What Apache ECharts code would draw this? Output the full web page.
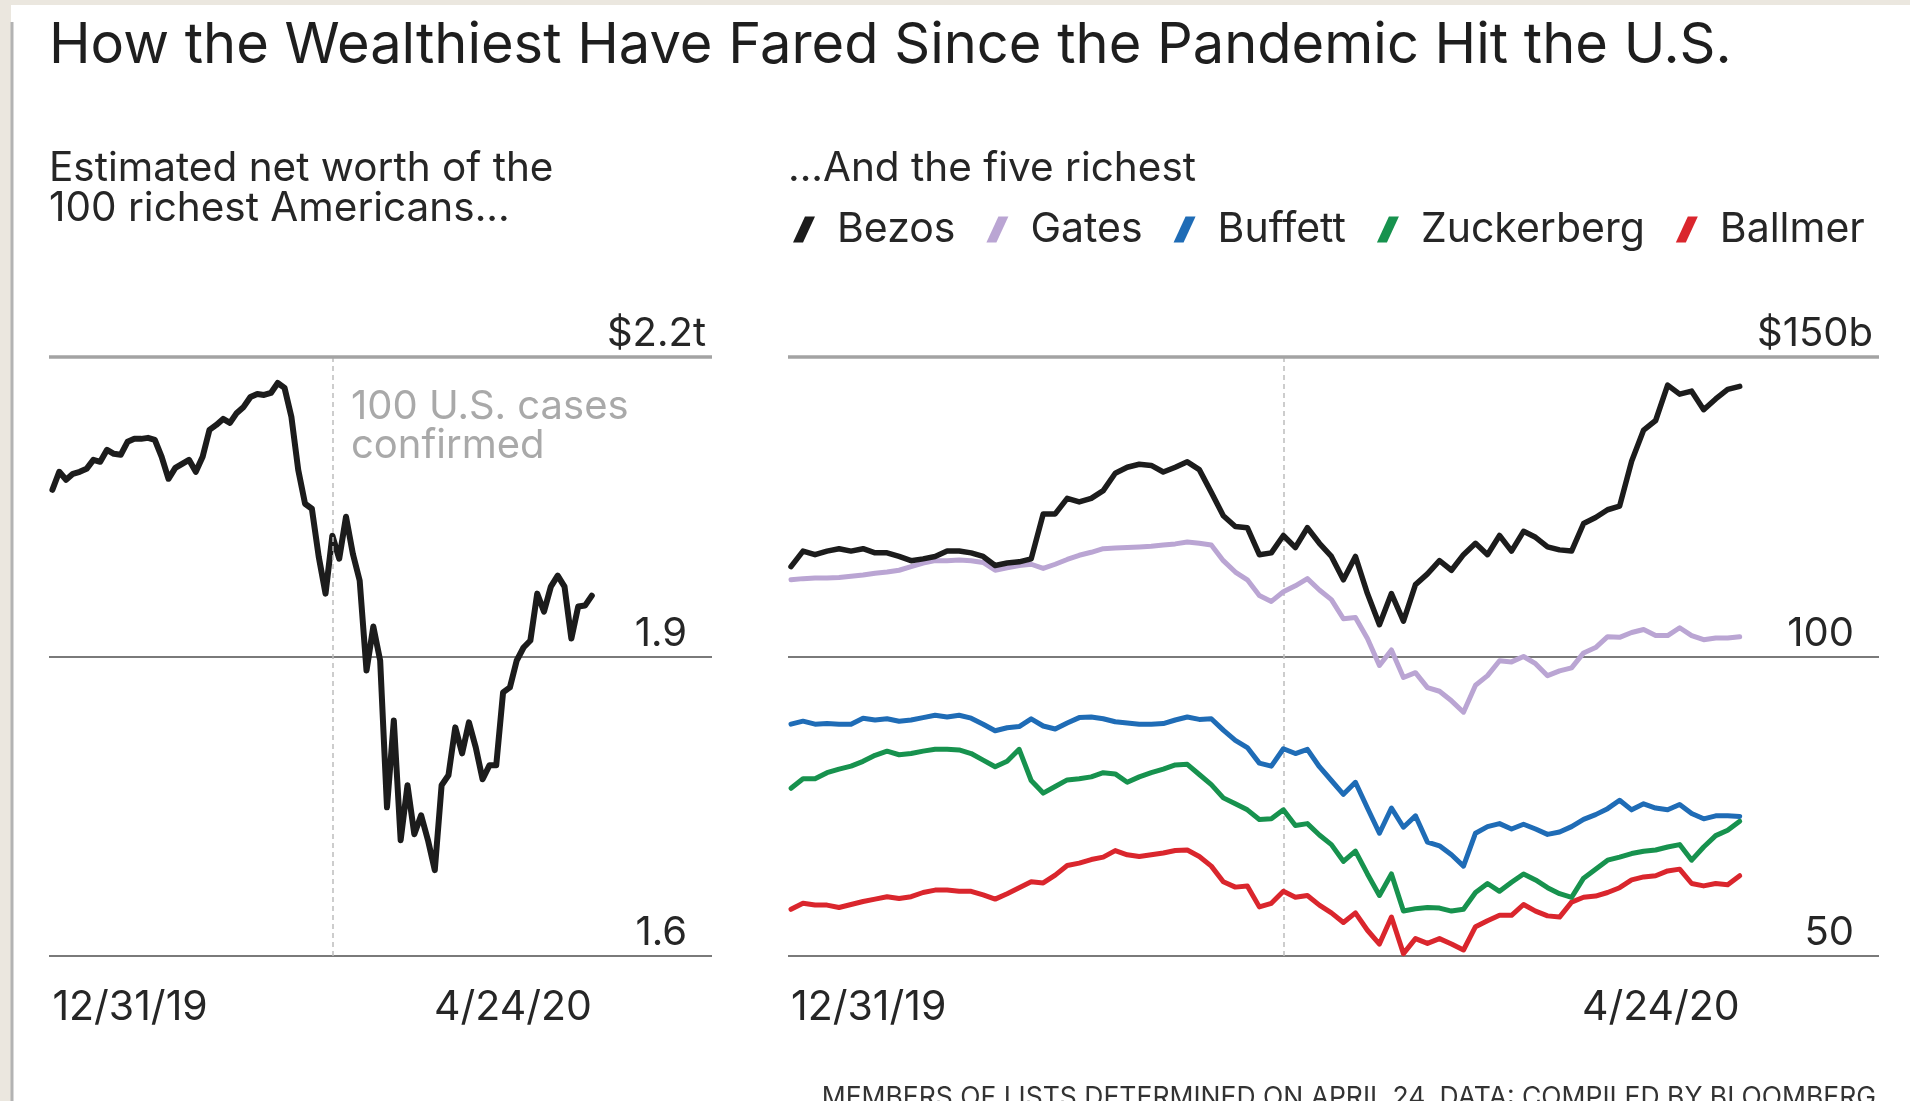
<!DOCTYPE html>
<html>
<head>
<meta charset="utf-8">
<title>How the Wealthiest Have Fared Since the Pandemic Hit the U.S.</title>
<script src="https://cdn.jsdelivr.net/npm/echarts@6/dist/echarts.min.js"></script>
<style>
  html, body { margin: 0; padding: 0; background: #fff; }
  #chart { width: 1910px; height: 1101px; }
</style>
</head>
<body>
<div id="chart"></div>
<script>
// trading sessions 12/31/19 .. 4/24/20, index 0 = 12/31/19, index 79 = 4/24/20
const dateLabels = ['12/31/19', '4/24/20'];
const firstDay = 0;
const lastDay = 79;
const casesConfirmedDay = 41; // 100 U.S. cases confirmed

// net worth of the 100 richest Americans, $ trillions
const top100 = [
  2.067, 2.085, 2.077, 2.083, 2.085, 2.088, 2.097, 2.095, 2.107, 2.103,
  2.102, 2.115, 2.118, 2.118, 2.119, 2.117, 2.100, 2.078, 2.089, 2.093,
  2.097, 2.085, 2.100, 2.127, 2.132, 2.138, 2.134, 2.144, 2.150, 2.160,
  2.163, 2.162, 2.164, 2.174, 2.169, 2.140, 2.087, 2.053, 2.048, 2.000,
  1.963, 2.021, 1.998, 2.040, 2.003, 1.976, 1.886, 1.930, 1.896, 1.749,
  1.836, 1.716, 1.771, 1.722, 1.741, 1.716, 1.686, 1.771, 1.781, 1.829,
  1.803, 1.834, 1.809, 1.777, 1.791, 1.791, 1.864, 1.869, 1.896, 1.909,
  1.916, 1.963, 1.945, 1.970, 1.981, 1.970, 1.918, 1.950, 1.951, 1.961
];

// five richest, $ billions
const bezos = [
  115.0, 117.6, 117.0, 117.6, 118.0, 117.6, 118.0, 117.3, 117.3, 116.7,
  116.0, 116.3, 116.7, 117.6, 117.6, 117.3, 116.7, 115.2, 115.6, 115.8,
  116.3, 123.8, 123.8, 126.4, 125.8, 126.4, 127.7, 130.6, 131.6, 132.1,
  131.9, 130.8, 131.6, 132.5, 131.2, 127.4, 123.5, 121.7, 121.5, 117.0,
  117.3, 120.2, 118.2, 121.5, 118.9, 116.7, 112.8, 116.7, 110.5, 105.3,
  110.5, 105.9, 112.0, 113.8, 116.0, 114.4, 117.0, 118.9, 117.0, 120.2,
  117.6, 120.9, 119.9, 118.3, 117.8, 117.6, 122.2, 123.2, 124.5, 125.1,
  132.6, 137.8, 139.4, 145.3, 143.8, 144.3, 141.2, 143.0, 144.6, 145.1
];
const gates = [
  112.8, 113.0, 113.1, 113.1, 113.2, 113.4, 113.6, 113.9, 114.1, 114.4,
  115.0, 115.6, 116.0, 116.0, 116.1, 116.0, 115.7, 114.4, 114.8, 115.2,
  115.4, 114.7, 115.4, 116.2, 116.9, 117.4, 118.0, 118.1, 118.2, 118.3,
  118.4, 118.6, 118.8, 119.1, 118.9, 118.6, 116.0, 114.1, 112.8, 110.2,
  109.2, 110.8, 111.8, 113.0, 111.1, 109.5, 106.3, 106.5, 103.0, 98.5,
  101.1, 96.5, 97.3, 94.8, 94.2, 92.6, 90.7, 95.2, 96.8, 99.3,
  99.1, 100.0, 98.8, 96.8, 97.6, 98.1, 100.6, 101.5, 103.3, 103.2,
  104.0, 104.5, 103.5, 103.5, 104.8, 103.5, 102.8, 103.1, 103.1, 103.3
];
const buffett = [
  88.7, 89.2, 88.7, 88.8, 88.7, 88.7, 89.7, 89.4, 89.6, 89.2,
  89.4, 89.8, 90.2, 89.9, 90.2, 89.7, 88.7, 87.6, 88.1, 88.3,
  89.6, 88.4, 87.9, 88.9, 89.8, 89.9, 89.6, 89.1, 88.9, 88.7,
  88.7, 88.8, 89.4, 89.9, 89.5, 89.6, 87.7, 86.0, 84.8, 82.2,
  81.7, 84.6, 83.8, 84.5, 81.6, 79.3, 77.0, 79.0, 74.7, 70.5,
  74.7, 71.5, 73.4, 69.0, 68.4, 66.9, 65.0, 70.5, 71.6, 72.1,
  71.2, 72.0, 71.2, 70.3, 70.7, 71.6, 72.8, 73.6, 74.6, 76.0,
  74.4, 75.4, 74.7, 74.4, 75.3, 73.8, 72.9, 73.4, 73.4, 73.3
];
const zuckerberg = [
  78.0, 79.6, 79.6, 80.6, 81.2, 81.7, 82.5, 83.5, 84.2, 83.6,
  83.8, 84.2, 84.5, 84.5, 84.4, 83.8, 82.7, 81.6, 82.5, 84.5,
  79.3, 77.2, 78.3, 79.4, 79.6, 79.9, 80.6, 80.4, 79.0, 79.9,
  80.6, 81.2, 81.9, 82.0, 80.3, 78.6, 76.4, 75.4, 74.4, 72.8,
  72.9, 74.4, 71.8, 72.1, 70.2, 68.6, 65.8, 67.5, 63.7, 60.1,
  63.7, 57.5, 57.9, 58.1, 58.0, 57.5, 57.8, 60.6, 62.1, 60.8,
  62.3, 63.7, 62.7, 61.4, 60.4, 59.8, 63.0, 64.5, 66.0, 66.5,
  67.1, 67.5, 67.7, 68.2, 68.6, 66.0, 68.2, 70.1, 71.0, 72.5
];
const ballmer = [
  57.8, 58.8, 58.5, 58.5, 58.1, 58.6, 59.1, 59.5, 59.9, 59.6,
  59.9, 60.6, 61.0, 61.0, 60.8, 60.8, 60.2, 59.5, 60.4, 61.4,
  62.4, 62.2, 63.5, 65.1, 65.5, 66.1, 66.5, 67.6, 66.9, 66.6,
  66.9, 67.2, 67.6, 67.7, 66.6, 65.0, 62.4, 61.5, 61.7, 58.2,
  58.8, 60.8, 59.8, 60.1, 58.5, 57.2, 55.6, 57.2, 54.3, 52.0,
  56.5, 50.4, 52.9, 52.1, 52.9, 52.0, 51.0, 54.9, 55.9, 56.8,
  56.8, 58.6, 57.5, 56.7, 56.5, 59.0, 59.8, 60.0, 60.6, 61.4,
  62.7, 63.2, 63.4, 64.2, 64.5, 62.1, 61.7, 62.1, 61.9, 63.4
];

const names = ['Bezos', 'Gates', 'Buffett', 'Zuckerberg', 'Ballmer'];
const richest = [bezos, gates, buffett, zuckerberg, ballmer];
const colors = ['#1c1c1c', '#baa5d3', '#1f6cb6', '#17924e', '#da262d'];

const leftTicks = [1.6, 1.9, 2.2];
const leftTickLabels = ['1.6', '1.9', '$2.2t'];
const rightTicks = [50, 100, 150];
const rightTickLabels = ['50', '100', '$150b'];

const FONT = 'Inter, "Liberation Sans", Arial, sans-serif';
const INK = '#262626';

function tickFormatter(ticks, labels) {
  return function (v) {
    const k = ticks.findIndex(t => Math.abs(t - v) < 1e-6);
    if (k < 0) return '';
    // numbers line up on the right, the unit letter of the top label hangs out
    return (k === ticks.length - 1 ? '{top|' : '{num|') + labels[k] + '}';
  };
}

function yAxisFor(gridIndex, ticks, labels) {
  return {
    type: 'value', gridIndex: gridIndex, position: 'right',
    min: ticks[0], max: ticks[ticks.length - 1], interval: ticks[1] - ticks[0],
    axisLine: { show: false }, axisTick: { show: false },
    splitLine: { show: true, lineStyle: { color: '#7a7a7a', width: 2 } },
    axisLabel: {
      inside: true, margin: 6, verticalAlign: 'bottom',
      formatter: tickFormatter(ticks, labels),
      rich: {
        top: { fontFamily: FONT, fontSize: 40, color: INK, padding: [0, 0, 3, 0] },
        num: { fontFamily: FONT, fontSize: 40, color: INK, padding: [0, 19, 3, 0] }
      }
    }
  };
}

function xAxisFor(gridIndex, min, max, value, label, align) {
  return {
    type: 'value', gridIndex: gridIndex, position: 'bottom', min: min, max: max,
    axisLine: { show: false }, axisTick: { show: false }, splitLine: { show: false },
    axisLabel: {
      customValues: [value], align: align, margin: 31,
      fontFamily: FONT, fontSize: 41, color: INK,
      formatter: () => label
    }
  };
}

const chart = echarts.init(document.getElementById('chart'));

const caseLine = { xAxis: casesConfirmedDay, lineStyle: { type: [5, 4], color: '#bdbdbd', width: 1.5 } };

const option = {
  backgroundColor: '#ffffff',
  animation: false,
  grid: [
    { left: 49, right: 1198, top: 357, bottom: 145 },
    { left: 788, right: 31, top: 357, bottom: 145 }
  ],
  xAxis: [
    xAxisFor(0, -0.5, 96.6, firstDay, dateLabels[0], 'left'),
    xAxisFor(0, -0.5, 96.6, lastDay, dateLabels[1], 'right'),
    xAxisFor(1, -0.25, 90.6, firstDay, dateLabels[0], 'left'),
    xAxisFor(1, -0.25, 90.6, lastDay, dateLabels[1], 'right')
  ],
  yAxis: [
    yAxisFor(0, leftTicks, leftTickLabels),
    yAxisFor(1, rightTicks, rightTickLabels)
  ],
  legend: {
    left: 788, top: 204,
    itemWidth: 22, itemHeight: 26, itemGap: 31,
    icon: 'path://M12,0 L22,0 L10,26 L0,26 Z',
    textStyle: { fontFamily: FONT, fontSize: 41, color: INK, padding: [0, 0, 0, 17] },
    data: names
  },
  series: [
    {
      name: 'Top 100', type: 'line', xAxisIndex: 0, yAxisIndex: 0,
      symbol: 'none', silent: true,
      lineStyle: { color: '#1c1c1c', width: 6, join: 'round', cap: 'round' },
      data: top100.map((v, i) => [i, v]),
      markLine: {
        silent: true, symbol: 'none', label: { show: false },
        data: [
          caseLine,
          { yAxis: leftTicks[leftTicks.length - 1], lineStyle: { type: 'solid', color: '#a3a3a3', width: 3.5 } }
        ]
      }
    }
  ].concat(names.map((n, k) => ({
    name: n, type: 'line', xAxisIndex: 2, yAxisIndex: 1,
    symbol: 'none', silent: true, z: 10 - k,
    itemStyle: { color: colors[k] },
    lineStyle: { color: colors[k], width: k === 0 ? 5.5 : 5, join: 'round', cap: 'round' },
    data: richest[k].map((v, i) => [i, v]),
    markLine: k === 0 ? {
      silent: true, symbol: 'none', label: { show: false },
      data: [
        caseLine,
        { yAxis: rightTicks[rightTicks.length - 1], lineStyle: { type: 'solid', color: '#a3a3a3', width: 3.5 } }
      ]
    } : undefined
  }))),
  graphic: [
    { type: 'rect', shape: { x: 0, y: 0, width: 11, height: 1101 }, style: { fill: '#ebe7df' }, silent: true },
    { type: 'rect', shape: { x: 0, y: 0, width: 1910, height: 5 }, style: { fill: '#ebe7df' }, silent: true },
    { type: 'line', shape: { x1: 12, y1: 22, x2: 12, y2: 1101 }, style: { stroke: '#b3b3b3', lineWidth: 3 }, silent: true },
    { type: 'text', x: 49, y: 46, style: { text: 'How the Wealthiest Have Fared Since the Pandemic Hit the U.S.', font: '56px ' + FONT, fill: '#1e1e1e', textAlign: 'left', textVerticalAlign: 'middle' } },
    { type: 'text', x: 49, y: 169, style: { text: 'Estimated net worth of the', font: '40.5px ' + FONT, fill: INK, textAlign: 'left', textVerticalAlign: 'middle' } },
    { type: 'text', x: 49, y: 209, style: { text: '100 richest Americans...', font: '40.5px ' + FONT, fill: INK, textAlign: 'left', textVerticalAlign: 'middle' } },
    { type: 'text', x: 788, y: 169, style: { text: '...And the five richest', font: '40.5px ' + FONT, fill: INK, textAlign: 'left', textVerticalAlign: 'middle' } },
    { type: 'text', x: 351, y: 407, style: { text: '100 U.S. cases', font: '40px ' + FONT, fill: '#a9a9a9', textAlign: 'left', textVerticalAlign: 'middle' } },
    { type: 'text', x: 351, y: 446, style: { text: 'confirmed', font: '40px ' + FONT, fill: '#a9a9a9', textAlign: 'left', textVerticalAlign: 'middle' } },
    { type: 'text', x: 1876, y: 1085, style: { text: 'MEMBERS OF LISTS DETERMINED ON APRIL 24. DATA: COMPILED BY BLOOMBERG', font: '26.5px ' + FONT, fill: '#333333', textAlign: 'right', textVerticalAlign: 'top' } }
  ]
};

chart.setOption(option);
</script>
</body>
</html>
